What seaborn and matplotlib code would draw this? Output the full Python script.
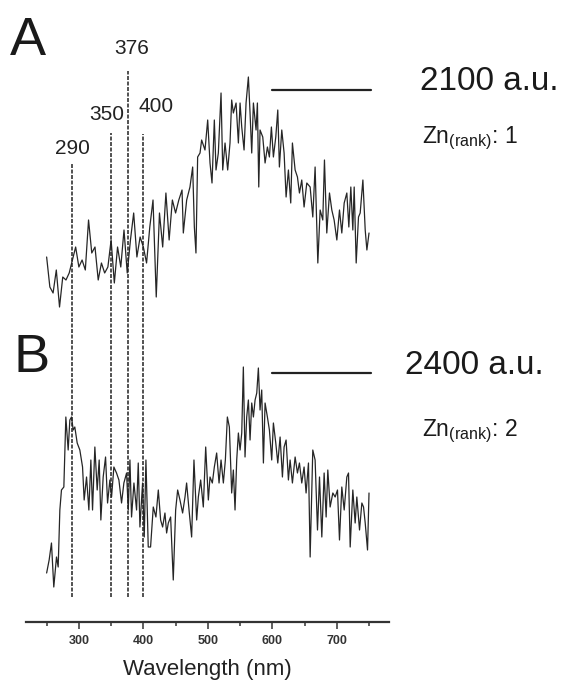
import numpy as np
import pandas as pd
import matplotlib
matplotlib.use("Agg")
import matplotlib.pyplot as plt
from matplotlib.ticker import MultipleLocator
import seaborn as sns

# spectrum A (Zn rank 1): wavelength (nm) and relative intensity
wl_a = [250, 255, 260, 265, 270, 275, 280, 285, 290, 295, 300, 305, 310, 315, 320, 325, 330, 335,
        340, 345, 350, 355, 360, 365, 370, 375, 380, 385, 390, 395, 400, 405, 410, 415, 420, 425,
        430, 435, 440, 445, 450, 455, 460,
        462.0, 467.2, 472.3, 476.5, 479.1, 481.6, 484.2, 487.9, 490.4, 495.6, 499.8, 503.4, 506.5,
        510.1, 512.7, 516.3, 520.5, 523.1, 526.7, 530.8, 534.4, 537.0, 539.6, 543.8, 547.4, 550.0,
        552.6, 556.2, 559.3, 562.9, 565.5, 568.1, 570.7, 574.8, 576.9, 579.0, 581.0, 585.2, 588.8,
        592.4, 595.5, 598.6, 601.7, 605.4, 608.5, 611.0, 614.7, 618.3, 621.4, 625.0, 628.6, 631.2,
        635.4, 639.0, 642.1, 645.7, 649.3, 653.5, 658.7, 662.8, 666.4, 670.6, 674.2, 678.3, 680.9,
        684.5, 688.7, 692.3, 695.9, 700.1, 704.2, 707.8, 711.5, 715.6, 718.7, 721.8, 724.9, 727.0,
        730.1, 733.7, 736.3, 740.5, 744.1, 746.7, 750.0]
int_a = [73, 43, 37, 60, 23, 53, 50, 57, 70, 83, 63, 70, 60, 110, 77, 83, 50, 67,
         57, 63, 90, 47, 83, 63, 100, 57, 90, 117, 73, 93, 83, 67, 103, 130, 33, 117,
         83, 137, 90, 130, 117, 130, 140,
         97, 130, 143, 163, 103, 77, 173, 177, 190, 180, 210, 167, 147,
         210, 160, 177, 237, 160, 187, 160, 187, 230, 217, 227, 187, 227,
         203, 180, 227, 253, 217, 177, 227, 200, 227, 143, 200, 193, 167,
         183, 173, 203, 173, 193, 220, 163, 200, 177, 133, 160, 127, 187,
         160, 153, 137, 150, 123, 147, 143, 113, 163, 67, 120, 110, 170,
         97, 137, 120, 110, 90, 120, 97, 127, 137, 103, 143, 100, 143,
         67, 113, 117, 150, 100, 80, 97]

# spectrum B (Zn rank 2)
wl_b = [250.0, 253.9, 257.5, 261.1, 265.3, 267.9, 270.5, 273.0, 276.7, 279.8, 283.4, 286.0, 288.6,
        291.2, 293.7, 297.4, 301.5, 305.7, 308.2, 311.9, 315.5, 318.6, 321.2, 324.8, 328.4, 331.5,
        334.1, 337.7, 341.4, 344.5, 348.1, 350.7, 354.3, 358.4, 362.1, 366.2, 369.8, 374.0, 376.6,
        379.2, 381.7, 385.4, 389.5, 392.1, 394.7, 398.8, 401.4, 404.0, 407.6, 411.2, 415.4, 419.5,
        423.2, 426.8, 429.9, 433.5, 436.1, 438.7, 442.3, 446.4, 450.1, 453.2, 456.8, 460.9, 464.6,
        467.1, 471.3, 474.9, 478.5, 482.7, 485.3, 488.9, 493.0, 496.7, 500.8,
        503.4, 507.0, 510.1, 513.7, 517.4, 520.5, 524.1, 527.2, 530.3, 533.4, 537.0, 539.6, 542.2,
        544.8, 547.4, 550.0, 552.6, 555.1, 557.7, 560.3, 562.9, 565.5, 568.1, 570.7, 573.3, 575.9,
        578.4, 581.0, 583.6, 586.2, 588.8, 592.4, 595.5, 599.1, 601.7, 605.4, 608.5, 612.1, 615.7,
        618.3, 621.4, 625.0, 627.6, 631.2, 635.4, 639.0, 642.1, 645.7, 649.3, 652.4, 656.1, 658.7,
        662.8, 666.4, 670.1, 673.2, 676.8, 680.4, 683.5, 686.1, 689.7, 693.9, 697.5, 701.1, 704.2,
        707.8, 711.5, 715.6, 718.2, 720.8, 724.9, 728.5, 731.1, 735.3, 738.9, 741.5, 744.1, 747.7,
        750.0]
int_b = [27, 40, 57, 13, 43, 33, 90, 110, 113, 183, 150, 180, 183,
         170, 173, 157, 150, 133, 100, 123, 90, 140, 90, 153, 110, 140,
         80, 123, 143, 97, 120, 103, 133, 127, 120, 97, 117, 127, 90,
         140, 83, 117, 90, 137, 73, 117, 63, 140, 53, 53, 93, 83,
         110, 80, 73, 87, 67, 77, 83, 20, 90, 110, 100, 87, 103,
         117, 87, 63, 140, 80, 103, 120, 93, 153, 100,
         123, 117, 133, 147, 117, 140, 117, 140, 183, 173, 107, 130, 90,
         140, 167, 150, 167, 233, 143, 183, 200, 160, 197, 183, 200, 207,
         232, 190, 210, 137, 197, 183, 170, 140, 177, 157, 137, 163, 123,
         153, 160, 120, 140, 117, 143, 127, 137, 117, 133, 107, 137, 43,
         150, 140, 70, 123, 63, 127, 83, 130, 93, 107, 103, 110, 60,
         113, 90, 123, 127, 53, 110, 77, 103, 70, 97, 93, 77, 50,
         107]

offset_a = 292
offset_b = 22

marker_nm = [290, 350, 376, 400]
marker_top = [459, 489, 551, 488]
marker_label_x = [290, 343, 382, 420]
marker_label_y = [474, 507, 574, 516]

scale_labels = ["2100 a.u.", "2400 a.u."]
rank_labels = ["1", "2"]

df = pd.DataFrame({
    "wavelength": wl_a + wl_b,
    "y": list(np.array(int_a) + offset_a) + list(np.array(int_b) + offset_b),
    "panel": ["A"] * len(wl_a) + ["B"] * len(wl_b),
})

sns.set_style("ticks")
plt.rcParams["font.family"] = ["Liberation Sans", "DejaVu Sans"]
plt.rcParams["mathtext.default"] = "regular"

fig = plt.figure(figsize=(5.66, 6.82), dpi=100)
ax = fig.add_axes([26 / 566, 60 / 682, 363 / 566, 622 / 682])

sns.lineplot(data=df, x="wavelength", y="y", units="panel", estimator=None, sort=False,
             color="#262626", linewidth=0.9, ax=ax)

# dashed marker lines
for xm, top in zip(marker_nm, marker_top):
    ax.plot([xm, xm], [25, top], color="#222222", lw=1.1, dashes=(2.6, 1.0))
for lab, lx, ly in zip(marker_nm, marker_label_x, marker_label_y):
    ax.text(lx, ly, str(lab), ha="center", va="center", fontsize=15, color="#222222")

# scale bars
ax.plot([600, 753], [532, 532], color="#222222", lw=1.6)
ax.plot([600, 753], [249, 249], color="#222222", lw=1.6)

ax.set_xlim(218, 781)
ax.set_ylim(0, 622)
ax.xaxis.set_major_locator(MultipleLocator(100))
ax.xaxis.set_minor_locator(MultipleLocator(50))
ax.tick_params(axis="x", which="major", length=5, width=1.1, color="#333333",
               labelsize=9, pad=4, labelcolor="#333333")
ax.tick_params(axis="x", which="minor", length=3, width=1.1, color="#333333")
for t in ax.get_xticklabels():
    t.set_fontweight("bold")
ax.set_yticks([])
ax.set_ylabel("")
ax.set_xlabel("Wavelength (nm)", fontsize=16, color="#222222", labelpad=9)
sns.despine(ax=ax, left=True)
ax.spines["bottom"].set_linewidth(1.6)
ax.spines["bottom"].set_color("#333333")

# panel letters and annotations
fig.text(10 / 566, 1 - 55 / 682, "A", fontsize=39, color="#1a1a1a", va="baseline")
fig.text(13 / 566, 1 - 372 / 682, "B", fontsize=39, color="#1a1a1a", va="baseline")
fig.text(420 / 566, 1 - 90 / 682, scale_labels[0], fontsize=24, color="#1a1a1a", va="baseline")
fig.text(405 / 566, 1 - 374 / 682, scale_labels[1], fontsize=24, color="#1a1a1a", va="baseline")
fig.text(422 / 566, 1 - 143 / 682, r"Zn$_{(rank)}$: " + rank_labels[0], fontsize=16.5,
         color="#1a1a1a", va="baseline")
fig.text(422 / 566, 1 - 436 / 682, r"Zn$_{(rank)}$: " + rank_labels[1], fontsize=16.5,
         color="#1a1a1a", va="baseline")

fig.savefig("out.png", dpi=100)
